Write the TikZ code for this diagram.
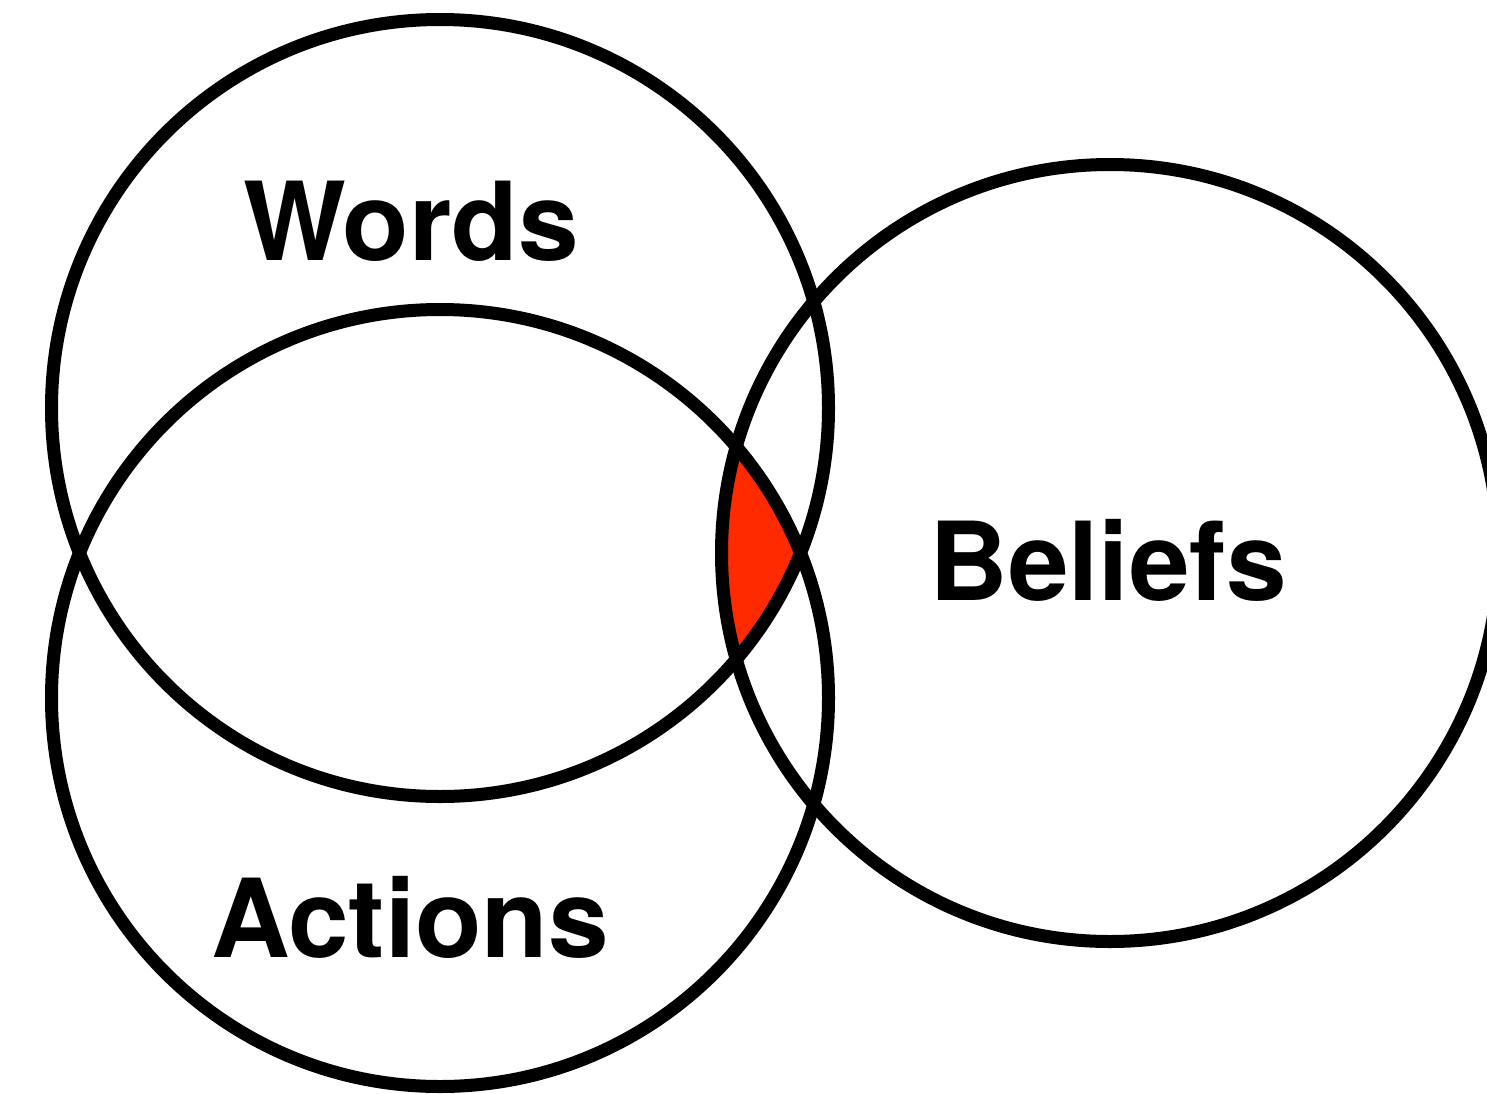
\documentclass[tikz,border=0pt]{standalone}
\usepackage{fontspec}
\setmainfont{TeX Gyre Heros}
\usepackage{tikz}
\usetikzlibrary{positioning}

\definecolor{overlapred}{RGB}{255,42,0}
\newcommand{\ringrad}{3.885}

\begin{document}
\begin{tikzpicture}[
  every node/.style={font=\fontsize{31}{37}\selectfont\bfseries, inner sep=0pt, anchor=base},
  ring/.style={draw=black, line width=1.3mm}
]
\useasboundingbox (0,0) rectangle (14.87,10.93);

% Centres of the sets
\coordinate (W) at (4.40,6.85);
\coordinate (A) at (4.40,3.95);
\coordinate (B) at (11.10,5.40);

% Common part of all three sets
\begin{scope}
  \clip (W) circle (\ringrad);
  \clip (A) circle (\ringrad);
  \fill[overlapred] (B) circle (\ringrad);
\end{scope}

% Circles
\foreach \c in {W,A,B}
  \draw[ring] (\c) circle (\ringrad);

% Labels
\node (words) at (4.11,8.33) {Words};
\node (actions) at (4.10,1.36) {Actions};
\node (beliefs) at (11.08,4.93) {Beliefs};

\end{tikzpicture}
\end{document}
